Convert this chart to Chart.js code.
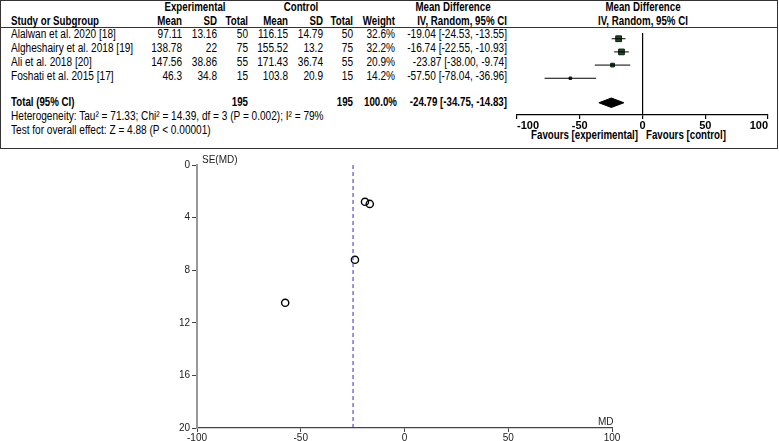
<!DOCTYPE html>
<html>
<head>
<meta charset="utf-8">
<script src="https://cdn.jsdelivr.net/npm/chart.js@4.4.1/dist/chart.umd.min.js"></script>
<style>
  body { margin: 0; width: 779px; height: 441px; position: relative; overflow: hidden; background: #fff;
         font-family: "Liberation Sans", Arial, sans-serif; font-size: 12px; color: #000; }
  #box { position: absolute; left: 0; top: 0; width: 776px; height: 147px; border: 1px solid #333; }
  #hline { position: absolute; left: 0; top: 27px; width: 778px; height: 1px; background: #333; }
  .t { position: absolute; line-height: 14px; white-space: nowrap; }
  .b { font-weight: bold; }
  .ax { position: absolute; font-family: "Liberation Sans", Arial, sans-serif; font-size: 10px; color: #222; line-height: 12px; }
  canvas { position: absolute; }
</style>
</head>
<body>
<div id="box"></div>
<div id="hline"></div>
<div id="txt"></div>
<canvas id="forest" width="279" height="120" style="left:500px;top:28px"></canvas>
<canvas id="funnel" width="500" height="291" style="left:150px;top:150px"></canvas>
<span class="ax" style="left:202px;top:154px">SE(MD)</span>
<span class="ax" style="left:598px;top:416px">MD</span>
<script>
const studies = ['Alalwan et al. 2020 [18]', 'Algheshairy et al. 2018 [19]', 'Ali et al. 2018 [20]', 'Foshati et al. 2015 [17]'];
const expMean = [97.11, 138.78, 147.56, 46.3];
const expSD = [13.16, 22, 38.86, 34.8];
const expN = [50, 75, 55, 15];
const ctlMean = [116.15, 155.52, 171.43, 103.8];
const ctlSD = [14.79, 13.2, 36.74, 20.9];
const ctlN = [50, 75, 55, 15];
const weights = [32.6, 32.2, 20.9, 14.2];
const md = [-19.04, -16.74, -23.87, -57.50];
const ciLow = [-24.53, -22.55, -38.00, -78.04];
const ciHigh = [-13.55, -10.93, -9.74, -36.96];
const seMD = [2.80, 2.96, 7.21, 10.48];

const totalExpN = 195;
const totalCtlN = 195;
const totalMd = -24.79;
const totalLow = -34.75;
const totalHigh = -14.83;

const forestTicks = [-100, -50, 0, 50, 100];
const funnelXTicks = [-100, -50, 0, 50, 100];
const funnelYTicks = [0, 4, 8, 12, 16, 20];

// table text, squeezed to look like Arial Narrow
const txt = document.getElementById('txt');
function put(s, x, y, align, bold) {
  const el = document.createElement('span');
  el.className = 't' + (bold ? ' b' : '');
  el.textContent = s;
  let origin = 'left';
  if (align === 'r') { el.style.left = (x - 300) + 'px'; el.style.width = '300px'; el.style.textAlign = 'right'; origin = 'right'; }
  else if (align === 'c') { el.style.left = (x - 150) + 'px'; el.style.width = '300px'; el.style.textAlign = 'center'; origin = 'center'; }
  else el.style.left = x + 'px';
  el.style.top = (y - 7) + 'px';
  el.style.transformOrigin = origin + ' center';
  el.style.transform = 'scaleX(' + (bold ? 0.81 : 0.84) + ')';
  txt.appendChild(el);
}
const ci = (m, l, h) => `${m.toFixed(2)} [${l.toFixed(2)}, ${h.toFixed(2)}]`;

put('Experimental', 195, 7, 'c', true);
put('Control', 301, 7, 'c', true);
put('Mean Difference', 453, 7, 'c', true);
put('Mean Difference', 643, 7, 'c', true);
put('Study or Subgroup', 11, 21, 'l', true);
put('Mean', 182, 21, 'r', true);
put('SD', 217, 21, 'r', true);
put('Total', 248, 21, 'r', true);
put('Mean', 288, 21, 'r', true);
put('SD', 323, 21, 'r', true);
put('Total', 353, 21, 'r', true);
put('Weight', 395, 21, 'r', true);
put('IV, Random, 95% CI', 507, 21, 'r', true);
put('IV, Random, 95% CI', 643, 21, 'c', true);

studies.forEach((s, i) => {
  const y = 34 + i * 14;
  put(s, 11, y, 'l');
  put(String(expMean[i]), 182, y, 'r');
  put(String(expSD[i]), 217, y, 'r');
  put(String(expN[i]), 248, y, 'r');
  put(String(ctlMean[i]), 288, y, 'r');
  put(String(ctlSD[i]), 323, y, 'r');
  put(String(ctlN[i]), 353, y, 'r');
  put(weights[i].toFixed(1) + '%', 395, y, 'r');
  put(ci(md[i], ciLow[i], ciHigh[i]), 507, y, 'r');
});
put('Total (95% CI)', 11, 102, 'l', true);
put(String(totalExpN), 248, 102, 'r', true);
put(String(totalCtlN), 353, 102, 'r', true);
put('100.0%', 397, 102, 'r', true);
put(ci(totalMd, totalLow, totalHigh), 507, 102, 'r', true);
put('Heterogeneity: Tau\u00b2 = 71.33; Chi\u00b2 = 14.39, df = 3 (P = 0.002); I\u00b2 = 79%', 11, 116, 'l');
put('Test for overall effect: Z = 4.88 (P < 0.00001)', 11, 130, 'l');
put('Favours [experimental]', 638, 135, 'r', true);
put('Favours [control]', 646, 135, 'l', true);

// forest plot
const rowY = studies.map((_, i) => i);
const totalY = 4.86;
const diamondHalf = 0.36;

const forestSets = studies.map((_, i) => ({
  data: [{ x: ciLow[i], y: rowY[i] }, { x: ciHigh[i], y: rowY[i] }],
  showLine: true, borderColor: '#000', borderWidth: 1, pointRadius: 0
}));
forestSets.push({
  data: md.map((m, i) => ({ x: m, y: rowY[i] })),
  pointStyle: 'rect',
  pointRadius: weights.map(w => w * 0.125),
  backgroundColor: '#1b4a1b', borderColor: '#0c220c', borderWidth: 1
});
forestSets.push({
  data: [
    { x: totalLow, y: totalY }, { x: totalMd, y: totalY - diamondHalf },
    { x: totalHigh, y: totalY }, { x: totalMd, y: totalY + diamondHalf }, { x: totalLow, y: totalY }
  ],
  showLine: true, fill: 'shape', backgroundColor: '#000', borderColor: '#000', borderWidth: 1, pointRadius: 0
});

new Chart(document.getElementById('forest'), {
  type: 'scatter',
  data: { datasets: forestSets },
  options: {
    responsive: false, animation: false,
    layout: { padding: { left: 17, right: 11, top: 0, bottom: 0 } },
    plugins: { legend: { display: false }, tooltip: { enabled: false } },
    scales: {
      x: {
        min: -100, max: 100,
        afterBuildTicks: (s) => { s.ticks = forestTicks.map(v => ({ value: v })); },
        afterFit: (s) => { s.height = 33; },
        grid: { color: (c) => (c.tick && c.tick.value === 0 ? '#000' : 'rgba(0,0,0,0)'), lineWidth: 1.2, tickColor: '#000', tickLength: 4 },
        border: { display: true, color: '#000', width: 1.2 },
        ticks: { color: '#000', padding: 0, align: 'inner', font: { family: '"Liberation Sans", Arial, sans-serif', size: 11, weight: 'bold' } }
      },
      y: { display: false, min: -0.43, max: 5.79, reverse: true }
    }
  }
});

// funnel plot
new Chart(document.getElementById('funnel'), {
  type: 'scatter',
  data: {
    datasets: [
      {
        data: [{ x: totalMd, y: funnelYTicks[0] }, { x: totalMd, y: funnelYTicks[funnelYTicks.length - 1] }],
        showLine: true, borderColor: '#2b2bd0', borderWidth: 1, borderDash: [4, 3], pointRadius: 0
      },
      {
        data: md.map((m, i) => ({ x: m, y: seMD[i] })),
        pointRadius: 3.6, borderWidth: 1.4, borderColor: '#000', backgroundColor: 'rgba(255,255,255,0)'
      }
    ]
  },
  options: {
    responsive: false, animation: false,
    layout: { padding: { left: 7, right: 38, top: 15, bottom: 0 } },
    plugins: { legend: { display: false }, tooltip: { enabled: false } },
    scales: {
      x: {
        min: -100, max: 100,
        afterBuildTicks: (s) => { s.ticks = funnelXTicks.map(v => ({ value: v })); },
        afterFit: (s) => { s.height = 13; },
        grid: { drawOnChartArea: false, tickLength: 4, tickColor: '#444' },
        border: { display: true, color: '#444', width: 1.3 },
        ticks: { color: '#222', padding: 0, font: { family: '"Liberation Sans", Arial, sans-serif', size: 10 } }
      },
      y: {
        min: 0, max: 20, reverse: true,
        afterBuildTicks: (s) => { s.ticks = funnelYTicks.map(v => ({ value: v })); },
        afterFit: (s) => { s.width = 40; },
        grid: { drawOnChartArea: false, tickLength: 5, tickColor: '#444' },
        border: { display: true, color: '#999', width: 2 },
        ticks: { color: '#222', padding: 2, font: { family: '"Liberation Sans", Arial, sans-serif', size: 10 } }
      }
    }
  }
});
</script>
</body>
</html>
